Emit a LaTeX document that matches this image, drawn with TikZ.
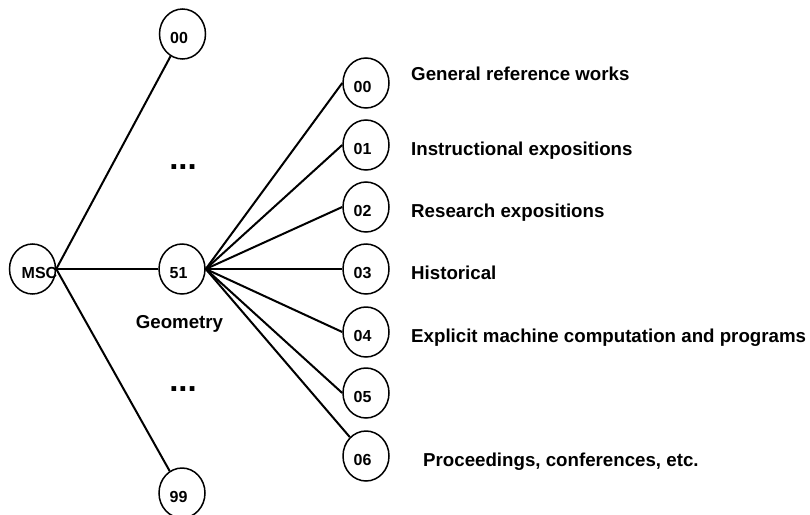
\documentclass[tikz,border=0pt]{standalone}
\usepackage{fontspec}
\setmainfont{Liberation Sans}
\usetikzlibrary{shapes.geometric}
\tikzset{
  topic/.style={ellipse, draw, line width=1.5pt, minimum width=46pt, minimum height=50pt, inner sep=0pt},
  numtext/.style={font=\fontsize{16}{19}\selectfont\bfseries, xshift=-3.5pt, yshift=-4pt},
  sublabel/.style={font=\fontsize{18.7}{22}\selectfont\bfseries, anchor=base west, inner sep=0pt},
  ellipsisdots/.style={font=\fontsize{33}{38}\selectfont\bfseries, anchor=base, inner sep=0pt},
  link/.style={line width=2pt}
}
\begin{document}
\begin{tikzpicture}[x=1pt, y=-1pt]
    \useasboundingbox (0,0) rectangle (810,514);
    % top level
    \node[topic, label={[numtext, xshift=10.5pt]center:MSC}] (MSC) at (32.5,269) {};
    \node[topic, label={[numtext]center:00}] (top00) at (182.5,34) {};
    \node[topic, label={[numtext]center:51}] (top51) at (182,269) {};
    \node[topic, label={[numtext]center:99}] (top99) at (182,493) {};
    \node[ellipsisdots] (dotsA) at (183,169) {...};
    \node[ellipsisdots] (dotsB) at (183,391.7) {...};
    \node[sublabel, anchor=base] (geom) at (179.5,328.3) {Geometry};
    % second level
    \node[topic, label={[numtext]center:00}] (sub00) at (366,83) {};
    \node[topic, label={[numtext]center:01}] (sub01) at (366,145) {};
    \node[topic, label={[numtext]center:02}] (sub02) at (366,207) {};
    \node[topic, label={[numtext]center:03}] (sub03) at (366,269) {};
    \node[topic, label={[numtext]center:04}] (sub04) at (366,332) {};
    \node[topic, label={[numtext]center:05}] (sub05) at (366,393) {};
    \node[topic, label={[numtext]center:06}] (sub06) at (366,456) {};
    \node[sublabel] (lab00) at (411,80.7) {General reference works};
    \node[sublabel] (lab01) at (411,155) {Instructional expositions};
    \node[sublabel] (lab02) at (411,217) {Research expositions};
    \node[sublabel] (lab03) at (411,279) {Historical};
    \node[sublabel] (lab04) at (411,342) {Explicit machine computation and programs};
    \node[sublabel] (lab06) at (423,466.7) {Proceedings, conferences, etc.};
    % links
    \draw[link] (MSC.east) -- (top00);
    \draw[link] (MSC.east) -- (top51.west);
    \draw[link] (MSC.east) -- (top99);
    \draw[link] (top51.east) -- (sub00.west);
    \draw[link] (top51.east) -- (sub01.west);
    \draw[link] (top51.east) -- (sub02.west);
    \draw[link] (top51.east) -- (sub03.west);
    \draw[link] (top51.east) -- (sub04.west);
    \draw[link] (top51.east) -- (sub05.west);
    \draw[link] (top51.east) -- (sub06);
\end{tikzpicture}
\end{document}
